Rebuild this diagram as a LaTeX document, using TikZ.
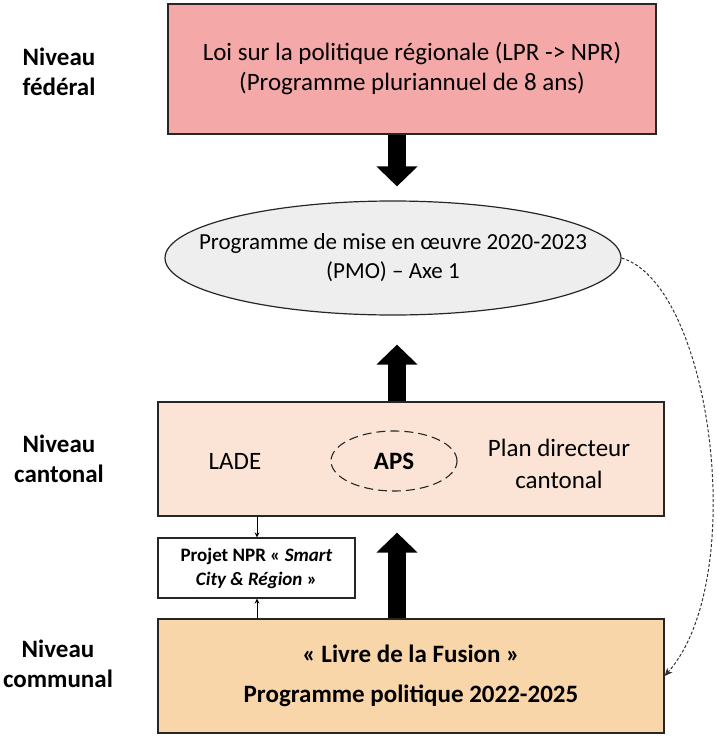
\documentclass[tikz,border=0pt]{standalone}
\usepackage{fontspec}
\setmainfont{Carlito}
\usetikzlibrary{arrows.meta,shapes.geometric}

\definecolor{fedfill}{HTML}{F4A9A8}
\definecolor{pmofill}{HTML}{EEEEEE}
\definecolor{cantfill}{HTML}{FBE4D6}
\definecolor{commfill}{HTML}{F9D6AA}

\tikzset{
  levelbox/.style={draw=black!85, line width=1.2pt, align=center, inner sep=0pt},
  levellabel/.style={font=\fontsize{25}{30}\selectfont\bfseries, align=center},
  bigarrow/.style={line width=18pt, -{Triangle[length=20pt,width=40pt]}},
  smallarrow/.style={line width=0.9pt, -{Stealth[length=5pt,width=5pt]}},
}

\begin{document}
\begin{tikzpicture}[x=1pt,y=-1pt]
\useasboundingbox (0,0) rectangle (716,736);
\coordinate (axis) at (397,0);
\coordinate (side) at (257,0);

% levels
\node[levellabel] (lblfed) at (59,72) {Niveau\\fédéral};
\node[levellabel] (lblcant) at (59,459) {Niveau\\cantonal};
\node[levellabel] (lblcomm) at (58,664) {Niveau\\communal};

% boxes
\node[levelbox, fill=fedfill, minimum width=488pt, minimum height=130pt,
      font=\fontsize{25}{30}\selectfont] (fed) at (412,69)
      {Loi sur la politique régionale (LPR -> NPR)\\(Programme pluriannuel de 8 ans)};
\node[levelbox, ellipse, fill=pmofill, inner xsep=-40pt, minimum width=456pt, minimum height=114pt,
      font=\fontsize{23}{29}\selectfont] (pmo) at (393,258)
      {Programme de mise en œuvre 2020-2023\\(PMO) – Axe 1};
\node[levelbox, fill=cantfill, minimum width=506pt, minimum height=114pt] (cant) at (411,459) {};
\node[levelbox, fill=white, minimum width=197pt, minimum height=60pt,
      font=\fontsize{19}{24}\selectfont\bfseries] (npr) at (256.5,568)
      {Projet NPR « \textit{Smart}\\\textit{City \& Région} »};
\node[levelbox, fill=commfill, minimum width=506pt, minimum height=114pt,
      font=\fontsize{25}{40}\selectfont\bfseries] (comm) at (411,676)
      {« Livre de la Fusion »\\Programme politique 2022-2025};

% inside the cantonal box
\begin{scope}[every node/.style={font=\fontsize{25}{32}\selectfont, align=center}]
  \node (lade) at (235,461) {LADE};
  \node[ellipse, draw=black!85, line width=1.1pt, dash pattern=on 9pt off 5pt,
        minimum width=126pt, minimum height=60pt, inner sep=0pt, font=\fontsize{25}{32}\selectfont\bfseries] (aps) at (394,461) {APS};
  \node (pdc) at (559,464) {Plan directeur\\cantonal};
\end{scope}

% connectors
\draw[bigarrow, shorten >=14pt] (fed.south -| axis) -- (pmo.north -| axis);
\draw[bigarrow, shorten >=29pt] (cant.north -| axis) -- (pmo.south -| axis);
\draw[bigarrow, shorten >=16pt] (comm.north -| axis) -- (cant.south -| axis);
\draw[smallarrow] (cant.south -| side) -- (npr.north -| side);
\draw[smallarrow] (comm.north -| side) -- (npr.south -| side);
\draw[line width=1pt, black!80, dash pattern=on 3pt off 2pt, -{Stealth[length=8pt,width=7pt]}]
  (pmo.east) .. controls (712,285) and (750,580) .. (comm.east);
\end{tikzpicture}
\end{document}
